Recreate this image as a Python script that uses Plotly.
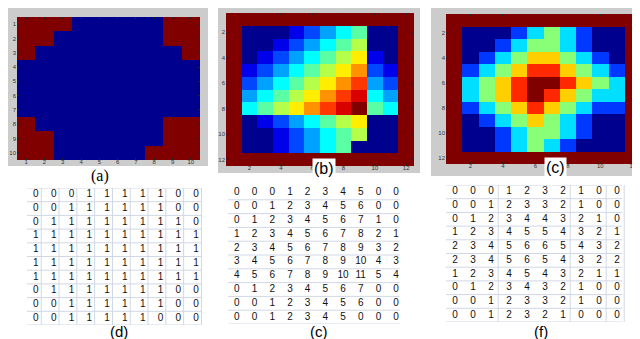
import plotly.graph_objects as go

# ---------------- data ----------------
mask_d = [
    [0, 0, 0, 1, 1, 1, 1, 1, 0, 0],
    [0, 0, 1, 1, 1, 1, 1, 1, 0, 0],
    [0, 1, 1, 1, 1, 1, 1, 1, 1, 0],
    [1, 1, 1, 1, 1, 1, 1, 1, 1, 1],
    [1, 1, 1, 1, 1, 1, 1, 1, 1, 1],
    [1, 1, 1, 1, 1, 1, 1, 1, 1, 1],
    [1, 1, 1, 1, 1, 1, 1, 1, 1, 1],
    [0, 1, 1, 1, 1, 1, 1, 1, 0, 0],
    [0, 0, 1, 1, 1, 1, 1, 1, 0, 0],
    [0, 0, 1, 1, 1, 1, 1, 0, 0, 0],
]
dist_e = [
    [0, 0, 0, 1, 2, 3, 4, 5, 0, 0],
    [0, 0, 1, 2, 3, 4, 5, 6, 0, 0],
    [0, 1, 2, 3, 4, 5, 6, 7, 1, 0],
    [1, 2, 3, 4, 5, 6, 7, 8, 2, 1],
    [2, 3, 4, 5, 6, 7, 8, 9, 3, 2],
    [3, 4, 5, 6, 7, 8, 9, 10, 4, 3],
    [4, 5, 6, 7, 8, 9, 10, 11, 5, 4],
    [0, 1, 2, 3, 4, 5, 6, 7, 0, 0],
    [0, 0, 1, 2, 3, 4, 5, 6, 0, 0],
    [0, 0, 1, 2, 3, 4, 5, 0, 0, 0],
]
dist_f = [
    [0, 0, 0, 1, 2, 3, 2, 1, 0, 0],
    [0, 0, 1, 2, 3, 3, 2, 1, 0, 0],
    [0, 1, 2, 3, 4, 4, 3, 2, 1, 0],
    [1, 2, 3, 4, 5, 5, 4, 3, 2, 1],
    [2, 3, 4, 5, 6, 6, 5, 4, 3, 2],
    [2, 3, 4, 5, 6, 5, 4, 3, 2, 2],
    [1, 2, 3, 4, 5, 4, 3, 2, 1, 1],
    [0, 1, 2, 3, 4, 3, 2, 1, 0, 0],
    [0, 0, 1, 2, 3, 3, 2, 1, 0, 0],
    [0, 0, 1, 2, 3, 2, 1, 0, 0, 0],
]
panel_labels = ["(a)", "(b)", "(c)", "(d)", "(c)", "(f)"]
ticks_a = list(range(1, 11))
ticks_bc = [2, 4, 6, 8, 10, 12]

W, H = 640, 339
def fx(p): return p / W
def fy(p): return 1 - p / H

def pad(m):
    mx = max(max(r) for r in m)
    n = len(m[0])
    out = [[mx] * (n + 2)]
    for r in m:
        out.append([mx] + list(r) + [mx])
    out.append([mx] * (n + 2))
    return out

jet = [[0, "rgb(0,0,143)"], [0.111, "rgb(0,0,255)"], [0.365, "rgb(0,255,255)"],
       [0.619, "rgb(255,255,0)"], [0.873, "rgb(255,0,0)"], [1, "rgb(128,0,0)"]]

fig = go.Figure()

# heatmaps
fig.add_trace(go.Heatmap(z=mask_d, x=list(range(1, 11)), y=list(range(1, 11)),
                         colorscale=[[0, "rgb(128,0,0)"], [1, "rgb(0,0,143)"]],
                         showscale=False, xaxis="x", yaxis="y", hoverinfo="skip"))
zb = pad(dist_e)
fig.add_trace(go.Heatmap(z=zb, x=list(range(1, 13)), y=list(range(1, 13)), colorscale=jet,
                         showscale=False, xaxis="x2", yaxis="y2", hoverinfo="skip"))
zc = pad(dist_f)
fig.add_trace(go.Heatmap(z=zc, x=list(range(1, 13)), y=list(range(1, 13)), colorscale=jet,
                         showscale=False, xaxis="x3", yaxis="y3", hoverinfo="skip"))

# tables as text
def table_trace(m, xa, ya):
    xs, ys, ts = [], [], []
    for i, r in enumerate(m):
        for j, v in enumerate(r):
            xs.append(j + 1); ys.append(i + 1); ts.append(str(v))
    return go.Scatter(x=xs, y=ys, text=ts, mode="text", xaxis=xa, yaxis=ya,
                      textfont=dict(family="Liberation Sans", size=10, color="#111111"),
                      hoverinfo="skip", showlegend=False)

fig.add_trace(table_trace(mask_d, "x4", "y4"))
fig.add_trace(table_trace(dist_e, "x5", "y5"))
fig.add_trace(table_trace(dist_f, "x6", "y6"))

shapes = []
# gray figure frames
for (x0, y0, x1, y1) in [(0, 0, 200, 158), (210, 0, 412, 165), (423, 0, 640, 168)]:
    shapes.append(dict(type="rect", xref="paper", yref="paper", x0=fx(x0), x1=fx(x1),
                       y0=fy(y1), y1=fy(y0), fillcolor="#cccccc", line=dict(width=0),
                       layer="below"))

gl = "#d0d7e5"
# table d grid: horizontal + vertical
for k in range(11):
    shapes.append(dict(type="line", xref="x4", yref="y4", x0=0.3, x1=10.3, y0=k + 0.5, y1=k + 0.5,
                       line=dict(color=gl, width=1), layer="below"))
for k in range(11):
    shapes.append(dict(type="line", xref="x4", yref="y4", x0=k + 0.3, x1=k + 0.3, y0=0.5, y1=10.5,
                       line=dict(color=gl, width=1), layer="below"))
# table e: horizontal only
for k in range(1, 11):
    shapes.append(dict(type="line", xref="x5", yref="y5", x0=0.2, x1=10.2, y0=k + 0.5, y1=k + 0.5,
                       line=dict(color=gl, width=1), layer="below"))
# table f: horizontal + some vertical
for k in range(11):
    shapes.append(dict(type="line", xref="x6", yref="y6", x0=0.3, x1=10.3, y0=k + 0.5, y1=k + 0.5,
                       line=dict(color=gl, width=1), layer="below"))
for k in [3, 7, 9, 10]:
    shapes.append(dict(type="line", xref="x6", yref="y6", x0=k + 0.4, x1=k + 0.4, y0=0.5, y1=10.5,
                       line=dict(color=gl, width=1), layer="below"))

tickfont = dict(family="Liberation Sans", size=6, color="#333333")
def hm_axes(dx, dy, n, tv):
    xa = dict(domain=[fx(dx[0]), fx(dx[1])], range=[0.5, n + 0.5], tickvals=tv, ticks="inside",
              ticklen=2, tickcolor="#222", showgrid=False, zeroline=False, tickfont=tickfont,
              mirror="ticks", showline=False, fixedrange=True, ticklabelstandoff=-3)
    ya = dict(domain=[fy(dy[1]), fy(dy[0])], range=[n + 0.5, 0.5], tickvals=tv, ticks="inside",
              ticklen=2, tickcolor="#222", showgrid=False, zeroline=False, tickfont=tickfont,
              mirror="ticks", showline=False, fixedrange=True)
    return xa, ya

def tab_axes(dx, dy):
    xa = dict(domain=[fx(dx[0]), fx(dx[1])], range=[0.5, 10.5], visible=False, fixedrange=True)
    ya = dict(domain=[fy(dy[1]), fy(dy[0])], range=[10.5, 0.5], visible=False, fixedrange=True)
    return xa, ya

xa1, ya1 = hm_axes((9, 152 and 192), (9, 152), 10, ticks_a)
xa2, ya2 = hm_axes((218, 406), (5, 158), 12, ticks_bc)
xa3, ya3 = hm_axes((438, 633), (6, 156), 12, ticks_bc)
xa4, ya4 = tab_axes((19, 197), (180, 317))
xa5, ya5 = tab_axes((220, 397), (178, 316))
xa6, ya6 = tab_axes((438, 618), (177, 314))

for a, k in [(ya1, "x"), (ya2, "x2"), (ya3, "x3"), (ya4, "x4"), (ya5, "x5"), (ya6, "x6")]:
    a["anchor"] = k
for a, k in [(xa1, "y"), (xa2, "y2"), (xa3, "y3"), (xa4, "y4"), (xa5, "y5"), (xa6, "y6")]:
    a["anchor"] = k

annotations = []
lab_pos = [(92, 168, "Liberation Serif", 16, None), (316, 161, "Liberation Sans", 16, "white"),
           (547, 159, "Liberation Sans", 16, "white"), (111, 323, "Liberation Sans", 15, None),
           (311, 323, "Liberation Sans", 15, None), (533, 323, "Liberation Sans", 15, None)]
for (px, py, fam, sz, bg), t in zip(lab_pos, panel_labels):
    ann = dict(text=t, x=fx(px), y=fy(py), xref="paper", yref="paper", showarrow=False,
               xanchor="center", yanchor="middle", font=dict(family=fam, size=sz, color="black"))
    if bg:
        ann["bgcolor"] = bg
        ann["borderpad"] = 1
    annotations.append(ann)

fig.update_layout(
    width=W, height=H, margin=dict(l=0, r=0, t=0, b=0), showlegend=False,
    paper_bgcolor="white", plot_bgcolor="rgba(0,0,0,0)",
    xaxis=xa1, yaxis=ya1, xaxis2=xa2, yaxis2=ya2, xaxis3=xa3, yaxis3=ya3,
    xaxis4=xa4, yaxis4=ya4, xaxis5=xa5, yaxis5=ya5, xaxis6=xa6, yaxis6=ya6,
    shapes=shapes, annotations=annotations,
)
fig.write_html("out.html")
